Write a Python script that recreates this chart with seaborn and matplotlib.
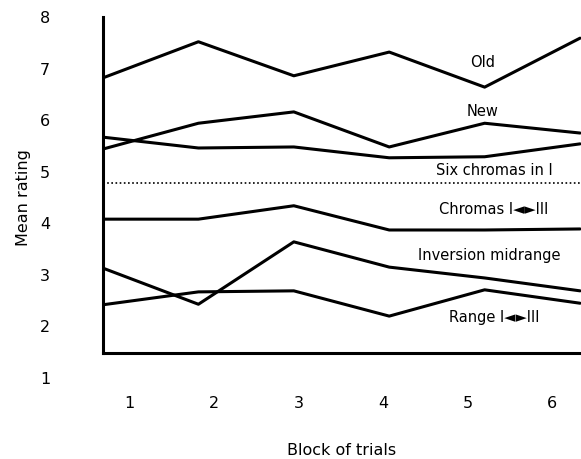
import numpy as np
import pandas as pd
import matplotlib
matplotlib.use("Agg")
import matplotlib.pyplot as plt
import seaborn as sns

# Data (mean rating per block of trials)
blocks = [1, 2, 3, 4, 5, 6]
old = [6.82, 7.52, 6.86, 7.32, 6.64, 7.59]
new = [5.44, 5.94, 6.16, 5.48, 5.94, 5.75]
six_chromas = [5.67, 5.46, 5.48, 5.27, 5.29, 5.54]
chromas = [4.08, 4.08, 4.34, 3.87, 3.87, 3.89]
inversion = [3.13, 2.43, 3.64, 3.15, 2.94, 2.69]
range_1_3 = [2.42, 2.67, 2.69, 2.20, 2.71, 2.45]
chance_level = 4.78

series_names = ["Old", "New", "Six chromas in I", "Chromas I\u25c4\u25baIII",
                "Inversion midrange", "Range I\u25c4\u25baIII"]
series_values = [old, new, six_chromas, chromas, inversion, range_1_3]

df = pd.DataFrame({
    "block": blocks * len(series_names),
    "rating": np.concatenate(series_values),
    "series": np.repeat(series_names, len(blocks)),
})

sns.set_theme(style="white")
plt.rcParams["font.family"] = ["DejaVu Sans"]

fig = plt.figure(figsize=(5.81, 4.59), dpi=100)
ax = fig.add_axes([103 / 581, 1 - 378 / 459, 1 - 103 / 581, 361 / 459])

sns.lineplot(data=df, x="block", y="rating", units="series", estimator=None,
             color="black", linewidth=2.2, ax=ax, legend=False)
ax.axhline(chance_level, color="black", linestyle=(0, (1, 1.5)), linewidth=1.2)

# label positions (x, y) in data units
label_pos = [(4.98, 7.11), (4.98, 6.16), (5.1, 5.03), (5.1, 4.26), (5.05, 3.37), (5.1, 2.18)]
for name, (lx, ly) in zip(series_names, label_pos):
    ax.text(lx, ly, name, ha="center", va="center", fontsize=10.5, color="black")

ax.set_xlim(1, 6.01)
ax.set_ylim(1, 8)

# tick labels sit where the original scan puts them
ax.set_xticks(np.linspace(1.28, 5.71, 6), [str(b) for b in blocks])
ax.set_yticks(range(1, 9), [str(v) for v in range(1, 9)])
ax.tick_params(axis="both", length=0, labelsize=11.5, colors="black")
ax.tick_params(axis="x", pad=31)
ax.tick_params(axis="y", pad=38)

for side in ["top", "right"]:
    ax.spines[side].set_visible(False)
ax.spines["left"].set_linewidth(2.2)
ax.spines["left"].set_color("black")
ax.spines["left"].set_bounds(1.48, 8.0)
ax.spines["bottom"].set_linewidth(2.2)
ax.spines["bottom"].set_color("black")
ax.spines["bottom"].set_position(("data", 1.48))

ax.set_xlabel("Block of trials", fontsize=11.5, color="black")
ax.set_ylabel("Mean rating", fontsize=11.5, color="black")
ax.xaxis.set_label_coords(0.5, -0.18)
ax.yaxis.set_label_coords(-0.15, 0.5)

fig.savefig("out.png", dpi=100)
